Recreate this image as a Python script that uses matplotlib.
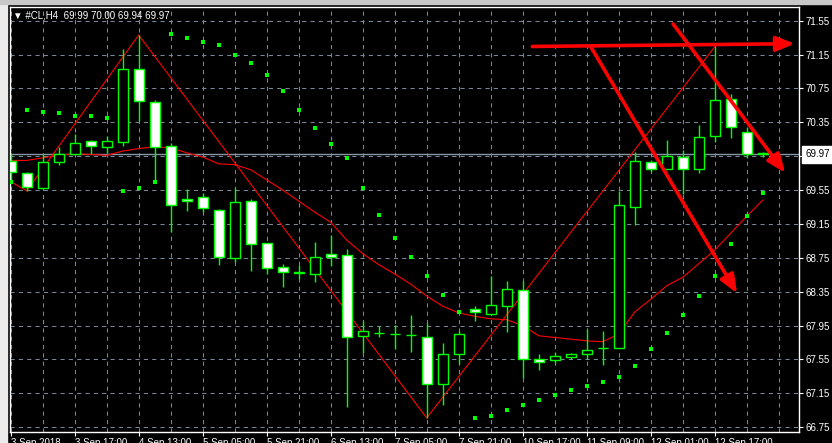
import numpy as np
import matplotlib
matplotlib.use("Agg")
import matplotlib.pyplot as plt
from matplotlib.patches import Rectangle, FancyArrowPatch
from matplotlib.transforms import blended_transform_factory

plt.rcParams["font.family"] = ["Liberation Sans", "DejaVu Sans"]

# #CL, H4 candles (bar index 0..47)
opens = [69.89, 69.75, 69.58, 69.88, 69.98, 70.13, 70.06, 70.12, 70.98, 70.59,
         70.07, 69.44, 69.47, 69.32, 68.75, 69.42, 68.92, 68.64, 68.58, 68.56,
         68.79, 68.78, 67.83, 67.865, 67.85, 67.84, 67.82, 67.26, 67.62, 68.15,
         68.09, 68.18, 68.37, 67.56, 67.54, 67.58, 67.62, 67.68, 67.68, 69.35,
         69.88, 69.80, 69.94, 69.80, 70.19, 70.62, 70.24, 69.99]
highs = [69.98, 69.76, 69.98, 70.06, 70.21, 70.14, 70.19, 71.21, 71.38, 70.61,
         70.11, 69.56, 69.52, 69.33, 69.58, 69.45, 68.93, 68.68, 68.66, 68.94,
         69.02, 68.86, 68.00, 67.95, 67.96, 68.08, 67.98, 67.75, 67.89, 68.18,
         68.53, 68.48, 68.48, 67.61, 67.64, 67.63, 67.91, 67.89, 69.54, 70.00,
         69.91, 70.14, 70.02, 70.32, 71.24, 70.68, 70.30, 70.00]
lows = [69.63, 69.54, 69.56, 69.84, 69.97, 69.98, 69.99, 70.07, 70.37, 69.67,
        69.06, 69.30, 69.29, 68.67, 68.70, 68.59, 68.56, 68.41, 68.50, 68.47,
        68.65, 66.99, 67.63, 67.82, 67.67, 67.64, 66.86, 67.01, 67.50, 68.01,
        68.08, 67.88, 67.33, 67.42, 67.51, 67.55, 67.56, 67.48, 67.68, 69.14,
        69.76, 69.80, 69.50, 69.75, 70.12, 70.17, 69.93, 69.94]
closes = [69.76, 69.59, 69.88, 69.98, 70.10, 70.07, 70.13, 70.98, 70.60, 70.06,
          69.37, 69.42, 69.34, 68.76, 69.41, 68.91, 68.63, 68.58, 68.57, 68.76,
          68.76, 67.82, 67.89, 67.86, 67.85, 67.84, 67.26, 67.61, 67.85, 68.11,
          68.19, 68.38, 67.55, 67.52, 67.59, 67.61, 67.66, 67.68, 69.37, 69.89,
          69.80, 69.95, 69.80, 70.18, 70.61, 70.30, 69.98, 69.97]

# Parabolic SAR dots
sar = [69.65, 70.49, 70.47, 70.46, 70.43, 70.42, 70.40, 69.54, 69.57, 69.64,
       71.39, 71.34, 71.30, 71.26, 71.15, 71.05, 70.91, 70.72, 70.49, 70.28,
       70.09, 69.93, 69.57, 69.26, 68.99, 68.76, 68.54, 68.31, 68.11, 66.86,
       66.88, 66.95, 67.01, 67.07, 67.13, 67.19, 67.24, 67.29, 67.34, 67.47,
       67.67, 67.86, 68.08, 68.30, 68.53, 68.91, 69.24, 69.52]

# moving average
ma = [69.90, 69.90, 69.93, 69.96, 69.98, 69.97, 69.96, 70.01, 70.04, 70.06,
      70.05, 69.99, 69.94, 69.86, 69.85, 69.79, 69.67, 69.55, 69.42, 69.29,
      69.17, 68.96, 68.80, 68.67, 68.56, 68.44, 68.30, 68.18, 68.10, 68.06,
      68.03, 68.02, 67.95, 67.83, 67.81, 67.79, 67.77, 67.76, 67.85, 68.11,
      68.26, 68.42, 68.52, 68.68, 68.84, 69.04, 69.24, 69.43]

# zigzag pivots
zz_bar = [0, 1, 8, 26, 44]
zz_price = [69.65, 69.54, 71.38, 66.86, 71.24]

# hand drawn arrows: (bar, price) start -> end
arrow_from = [(32.6, 71.245), (36.25, 71.243), (41.4, 71.511)]
arrow_to = [(49.0, 71.278), (45.4, 68.331), (48.4, 69.755)]

price_ticks = [66.75, 67.15, 67.55, 67.95, 68.35, 68.75, 69.15, 69.55,
               69.95, 70.35, 70.75, 71.15, 71.55]
date_bars = [0, 4, 8, 12, 16, 20, 24, 28, 32, 36, 40, 44]
date_labels = ["3 Sep 2018", "3 Sep 17:00", "4 Sep 13:00", "5 Sep 05:00",
               "5 Sep 21:00", "6 Sep 13:00", "7 Sep 05:00", "7 Sep 21:00",
               "10 Sep 17:00", "11 Sep 09:00", "12 Sep 01:00", "12 Sep 17:00"]
last_price = 69.97

W, H = 832, 443
fig = plt.figure(figsize=(W / 100, H / 100), dpi=100, facecolor="black")
ax = fig.add_axes([10 / W, (H - 432) / H, 789 / W, 425 / H], facecolor="black")

# window chrome
fig.patches.append(Rectangle((0, 0), 7 / W, 1, transform=fig.transFigure,
                             color="#ececec", zorder=0))
fig.patches.append(Rectangle((0, 1 - 4 / H), 1, 4 / H, transform=fig.transFigure,
                             color="#c8c8c8", zorder=0))

o = np.array(opens)
hi = np.array(highs)
lo = np.array(lows)
c = np.array(closes)
x = np.arange(len(o))
green = "#00ff00"

ax.vlines(x, lo, hi, color=green, lw=1.0, zorder=3)
body_low = np.minimum(o, c)
body_h = np.maximum(np.abs(c - o), 0.004)
fills = np.where(c >= o, "black", "white")
ax.bar(x, body_h, bottom=body_low, width=0.62, color=fills,
       edgecolor=green, linewidth=1.0, zorder=4)

ax.scatter(x, sar, marker="s", s=8, color=green, linewidths=0, zorder=5)
ax.plot(x, ma, color="red", lw=0.8, zorder=2)
ax.plot(zz_bar, zz_price, color="red", lw=0.8, zorder=2)

for p0, p1 in zip(arrow_from, arrow_to):
    ax.add_patch(FancyArrowPatch(p0, p1, arrowstyle="-|>,head_length=1.1,head_width=0.45",
                                 mutation_scale=10, lw=2.6, color="#ff0000",
                                 zorder=6, shrinkA=0, shrinkB=0))

ax.axhline(last_price, color="#8896a6", lw=1.0, zorder=1)

ax.set_xlim(-0.044, 49.27)
ax.set_ylim(66.694, 71.711)

ax.yaxis.tick_right()
ax.set_yticks(price_ticks)
# the 69.95 label sits under the last-price box
ax.set_yticklabels(["" if abs(p - last_price) < 0.1 else f"{p:.2f}" for p in price_ticks])
ax.set_xticks(date_bars)
ax.set_xticklabels(date_labels, ha="left")
ax.set_xticks(np.arange(0, 49, 2), minor=True)
ax.tick_params(axis="both", colors="white", length=3, width=0.8, pad=1.5, labelsize=7)
ax.tick_params(axis="x", which="minor", length=0)

grid_kw = dict(color="#778899", lw=0.75, ls=(0, (4, 4)))
ax.grid(axis="x", which="both", **grid_kw)
ax.grid(axis="y", which="major", **grid_kw)
ax.set_axisbelow(True)

for s in ax.spines.values():
    s.set_color("white")
    s.set_linewidth(1.0)

tr = blended_transform_factory(ax.transAxes, ax.transData)
ax.text(1.008, last_price, f"{last_price:.2f}", transform=tr, fontsize=7,
        color="black", va="center", ha="left",
        bbox=dict(facecolor="white", edgecolor="white", pad=2.5))

fig.text(13 / W, 1 - 15 / H, "\u25bc #CL,H4  69.99 70.00 69.94 69.97",
         color="white", fontsize=7, va="center", ha="left")

fig.savefig("out.png", dpi=100, facecolor="black")
